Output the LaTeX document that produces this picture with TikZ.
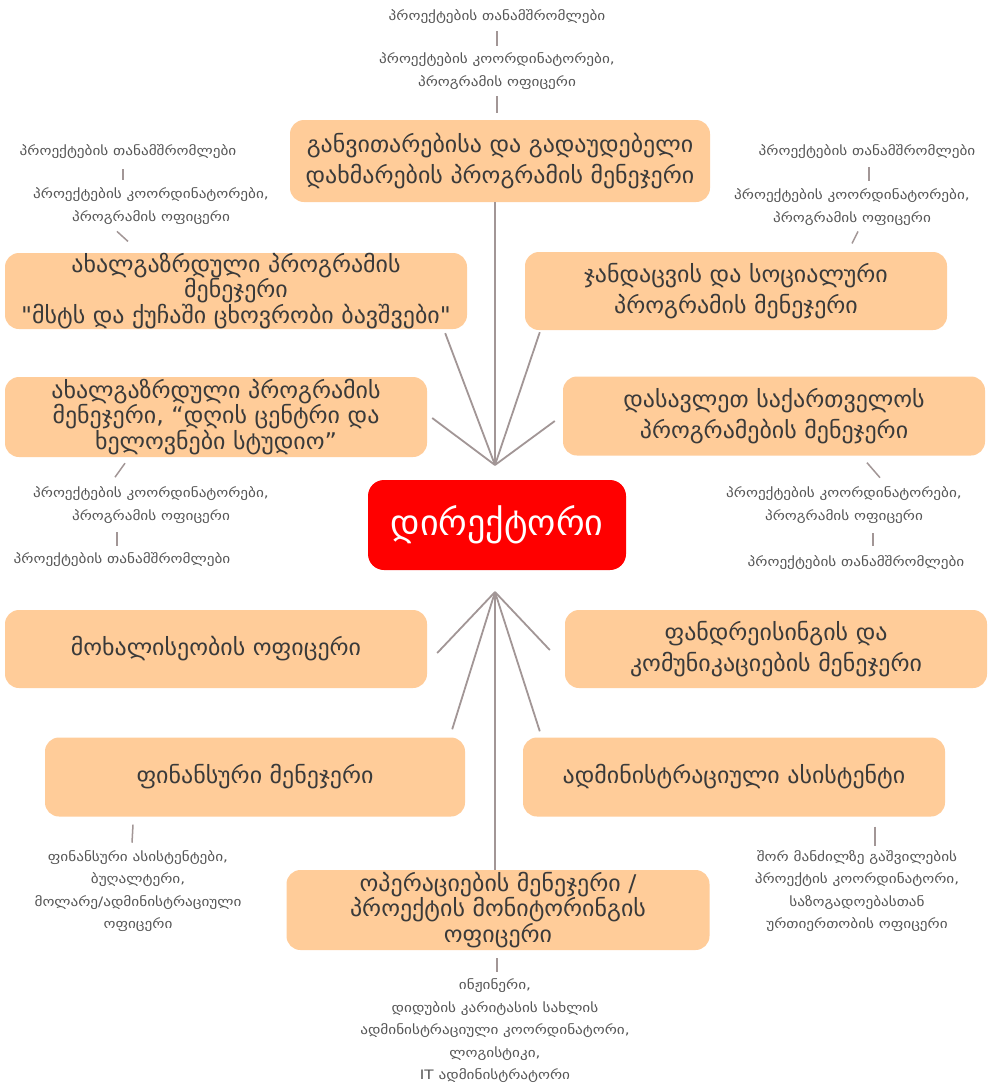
\documentclass[tikz,border=0pt]{standalone}
\usepackage{fontspec}
\setmainfont{DejaVu Sans}
\newfontfamily\smallfont[FakeStretch=1.17]{DejaVu Sans}
\newfontfamily\boxfont[FakeStretch=1.04]{DejaVu Sans}
\definecolor{boxfill}{HTML}{FFCC99}
\definecolor{boxtext}{HTML}{3A3A3A}
\definecolor{smalltext}{HTML}{555555}
\definecolor{linec}{HTML}{A29696}
\definecolor{dirred}{HTML}{FF0000}
\begin{document}
\begin{tikzpicture}[x=1pt,y=-1pt,
  rolebox/.style={fill=boxfill,rounded corners=14pt,draw=none,text=boxtext,align=center,
    font=\boxfont\fontsize{23}{31}\selectfont,inner sep=0pt},
  tight/.style={font=\boxfont\fontsize{23}{25.5}\selectfont},
  dirbox/.style={fill=dirred,rounded corners=16pt,draw=none,text=white,align=center,
    font=\fontsize{36}{40}\selectfont,inner sep=0pt},
  small/.style={text=smalltext,align=center,font=\smallfont\fontsize{13}{22.5}\selectfont,inner sep=0pt},
  conn/.style={draw=linec,line width=1.8pt},
  tick/.style={draw=linec,line width=1.5pt}]
\useasboundingbox (0,0) rectangle (997,1087);
\fill[white] (0,0) rectangle (997,1087);

% main boxes
\node[rolebox,minimum width=420pt,minimum height=82pt] (b1) at (500,161) {განვითარებისა და გადაუდებელი\\დახმარების პროგრამის მენეჯერი};
\node[rolebox,tight,minimum width=462pt,minimum height=76pt] (b2) at (236,291) {ახალგაზრდული პროგრამის\\მენეჯერი\\"მსტს და ქუჩაში ცხოვრობი ბავშვები"};
\node[rolebox,minimum width=422pt,minimum height=78pt] (b3) at (736,291) {ჯანდაცვის და სოციალური\\პროგრამის მენეჯერი};
\node[rolebox,tight,minimum width=422pt,minimum height=80pt] (b4) at (216,417) {ახალგაზრდული პროგრამის\\მენეჯერი, “დღის ცენტრი და\\ხელოვნები სტუდიო”};
\node[rolebox,minimum width=422pt,minimum height=79pt] (b5) at (774,416) {დასავლეთ საქართველოს\\პროგრამების მენეჯერი};
\node[dirbox,minimum width=258pt,minimum height=90pt] (dir) at (497,525) {დირექტორი};
\node[rolebox,minimum width=422pt,minimum height=78pt] (b6) at (216,649) {მოხალისეობის ოფიცერი};
\node[rolebox,minimum width=422pt,minimum height=78pt] (b7) at (776,649) {ფანდრეისინგის და\\კომუნიკაციების მენეჯერი};
\node[rolebox,minimum width=420pt,minimum height=79pt] (b8) at (255,777) {ფინანსური მენეჯერი};
\node[rolebox,minimum width=422pt,minimum height=79pt] (b9) at (734,777) {ადმინისტრაციული ასისტენტი};
\node[rolebox,tight,minimum width=423pt,minimum height=80pt] (b10) at (498,910) {ოპერაციების მენეჯერი /\\პროექტის მონიტორინგის\\ოფიცერი};

% small texts
\node[small] (t1a) at (497,17) {პროექტების თანამშრომლები};
\node[small] (t1b) at (497,71) {პროექტების კოორდინატორები,\\პროგრამის ოფიცერი};
\node[small] (l1a) at (128,152) {პროექტების თანამშრომლები};
\node[small] (l1b) at (151,206) {პროექტების კოორდინატორები,\\პროგრამის ოფიცერი};
\node[small] (r1a) at (867,152) {პროექტების თანამშრომლები};
\node[small] (r1b) at (852,207) {პროექტების კოორდინატორები,\\პროგრამის ოფიცერი};
\node[small] (l2a) at (151,505) {პროექტების კოორდინატორები,\\პროგრამის ოფიცერი};
\node[small] (l2b) at (122,560) {პროექტების თანამშრომლები};
\node[small] (r2a) at (844,505) {პროექტების კოორდინატორები,\\პროგრამის ოფიცერი};
\node[small] (r2b) at (856,563) {პროექტების თანამშრომლები};
\node[small] (fin) at (138,891) {ფინანსური ასისტენტები,\\ბუღალტერი,\\მოლარე/ადმინისტრაციული\\ოფიცერი};
\node[small] (adm) at (857,891) {შორ მანძილზე გაშვილების\\პროექტის კოორდინატორი,\\საზოგადოებასთან\\ურთიერთობის ოფიცერი};
\node[small] (ops) at (495,1031) {ინჟინერი,\\დიდუბის კარიტასის სახლის\\ადმინისტრაციული კოორდინატორი,\\ლოგისტიკი,\\IT ადმინისტრატორი};

% convergence points
\coordinate (top) at (495,465);
\coordinate (bot) at (495,592);

% lines to director (top)
\draw[conn] (b1.south -| top) -- (top);
\draw[conn] (b2.south east) ++(-22,4) -- (top);
\draw[conn] (b3.south west) ++(15,2) -- (top);
\draw[conn] (b4.east) ++(5,1) -- (top);
\draw[conn] (b5.west) ++(-8,5) -- (top);
% lines to director (bottom)
\draw[conn] (b6.east) ++(10,4) -- (bot);
\draw[conn] (b7.west) ++(-15,1) -- (bot);
\draw[conn] (b8.north east) ++(-13,-8) -- (bot);
\draw[conn] (b9.north west) ++(17,-6) -- (bot);
\draw[conn] (b10.north -| bot) -- (bot);

% ticks
\draw[tick] (t1a.south) ++(0,7) -- ++(0,15);
\draw[tick] (b1.north -| t1b) ++(0,-7) -- ++(0,-17);
\draw[tick] (l1a.south) ++(-5,10) -- ++(0,11);
\draw[tick] (l1b.south) ++(-34,7) -- ++(11,10);
\draw[tick] (r1a.south) ++(2,8) -- ++(0,14);
\draw[tick] (r1b.south) ++(6,6) -- ++(-6,12);
\draw[tick] (b4.south) ++(-91,6) -- ++(-10,14);
\draw[tick] (l2a.south) ++(-34,9) -- ++(0,14);
\draw[tick] (b5.south) ++(93,7) -- ++(13,15);
\draw[tick] (r2a.south) ++(29,10) -- ++(0,13);
\draw[tick] (b8.south) ++(-122,8) -- ++(-1,18);
\draw[tick] (b9.south) ++(141,10) -- ++(0,19);
\draw[tick] (b10.south) ++(-1,8) -- ++(0,14);
\end{tikzpicture}
\end{document}
